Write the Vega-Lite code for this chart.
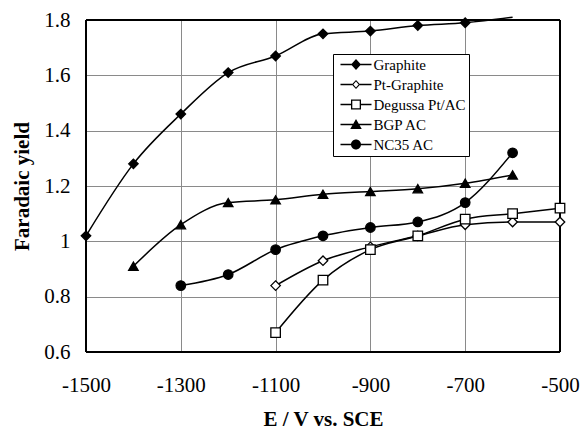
{
  "$schema": "https://vega.github.io/schema/vega-lite/v6.json",
  "width": 474,
  "height": 332,
  "autosize": "none",
  "padding": {"left": 86, "top": 20, "right": 23, "bottom": 80},
  "background": "white",
  "config": {
    "font": "Liberation Serif",
    "view": {"stroke": null},
    "axis": {
      "domain": false,
      "ticks": false,
      "gridColor": "#8a8a8a",
      "gridWidth": 1,
      "labelFlush": false,
      "labelOverlap": false,
      "labelFont": "Liberation Serif",
      "labelFontSize": 21,
      "labelColor": "black",
      "titleFont": "Liberation Serif",
      "titleFontSize": 21,
      "titleFontWeight": "bold",
      "titleColor": "black"
    },
    "legend": {"labelFont": "Liberation Serif"}
  },
  "data": {
    "values": [
      {"series": "Graphite", "E": -1500, "y": 1.02},
      {"series": "Graphite", "E": -1400, "y": 1.28},
      {"series": "Graphite", "E": -1300, "y": 1.46},
      {"series": "Graphite", "E": -1200, "y": 1.61},
      {"series": "Graphite", "E": -1100, "y": 1.67},
      {"series": "Graphite", "E": -1000, "y": 1.75},
      {"series": "Graphite", "E": -900, "y": 1.76},
      {"series": "Graphite", "E": -800, "y": 1.78},
      {"series": "Graphite", "E": -700, "y": 1.79},
      {"series": "Graphite", "E": -600, "y": 1.81},
      {"series": "Pt-Graphite", "E": -1100, "y": 0.84},
      {"series": "Pt-Graphite", "E": -1000, "y": 0.93},
      {"series": "Pt-Graphite", "E": -900, "y": 0.98},
      {"series": "Pt-Graphite", "E": -800, "y": 1.02},
      {"series": "Pt-Graphite", "E": -700, "y": 1.06},
      {"series": "Pt-Graphite", "E": -600, "y": 1.07},
      {"series": "Pt-Graphite", "E": -500, "y": 1.07},
      {"series": "Degussa Pt/AC", "E": -1100, "y": 0.67},
      {"series": "Degussa Pt/AC", "E": -1000, "y": 0.86},
      {"series": "Degussa Pt/AC", "E": -900, "y": 0.97},
      {"series": "Degussa Pt/AC", "E": -800, "y": 1.02},
      {"series": "Degussa Pt/AC", "E": -700, "y": 1.08},
      {"series": "Degussa Pt/AC", "E": -600, "y": 1.10},
      {"series": "Degussa Pt/AC", "E": -500, "y": 1.12},
      {"series": "BGP AC", "E": -1400, "y": 0.91},
      {"series": "BGP AC", "E": -1300, "y": 1.06},
      {"series": "BGP AC", "E": -1200, "y": 1.14},
      {"series": "BGP AC", "E": -1100, "y": 1.15},
      {"series": "BGP AC", "E": -1000, "y": 1.17},
      {"series": "BGP AC", "E": -900, "y": 1.18},
      {"series": "BGP AC", "E": -800, "y": 1.19},
      {"series": "BGP AC", "E": -700, "y": 1.21},
      {"series": "BGP AC", "E": -600, "y": 1.24},
      {"series": "NC35 AC", "E": -1300, "y": 0.84},
      {"series": "NC35 AC", "E": -1200, "y": 0.88},
      {"series": "NC35 AC", "E": -1100, "y": 0.97},
      {"series": "NC35 AC", "E": -1000, "y": 1.02},
      {"series": "NC35 AC", "E": -900, "y": 1.05},
      {"series": "NC35 AC", "E": -800, "y": 1.07},
      {"series": "NC35 AC", "E": -700, "y": 1.14},
      {"series": "NC35 AC", "E": -600, "y": 1.32}
    ]
  },
  "resolve": {
    "scale": {"shape": "independent"},
    "axis": {"x": "independent", "y": "independent"}
  },
  "layer": [
    {
      "mark": {"type": "line", "interpolate": "monotone", "stroke": "black", "strokeWidth": 1.5},
      "encoding": {
        "x": {
          "field": "E",
          "type": "quantitative",
          "scale": {"domain": [-1500, -500], "nice": false, "zero": false},
          "axis": {
            "values": [-1500, -1300, -1100, -900, -700, -500],
            "labelExpr": "'' + datum.value",
            "title": "E / V vs. SCE",
            "grid": true,
            "labelPadding": 22,
            "titlePadding": 13,
            "gridOpacity": {"condition": {"test": "datum.value === -1500 || datum.value === -500", "value": 0}, "value": 1}
          }
        },
        "y": {
          "field": "y",
          "type": "quantitative",
          "scale": {"domain": [0.6, 1.8], "nice": false, "zero": false},
          "axis": {
            "values": [0.6, 0.8, 1, 1.2, 1.4, 1.6, 1.8],
            "format": "~g",
            "title": "Faradaic yield",
            "grid": true,
            "labelPadding": 16,
            "titlePadding": 11,
            "gridOpacity": {"condition": {"test": "datum.value <= 0.61 || datum.value >= 1.79", "value": 0}, "value": 1}
          }
        },
        "detail": {"field": "series"}
      }
    },
    {
      "data": {"values": [{}]},
      "mark": {"type": "rule", "stroke": "black", "strokeWidth": 2},
      "encoding": {"x": {"datum": -1500, "type": "quantitative", "axis": null}}
    },
    {
      "data": {"values": [{}]},
      "mark": {"type": "rule", "stroke": "black", "strokeWidth": 2},
      "encoding": {"x": {"datum": -500, "type": "quantitative", "axis": null}}
    },
    {
      "data": {"values": [{}]},
      "mark": {"type": "rule", "stroke": "black", "strokeWidth": 2},
      "encoding": {"y": {"datum": 0.6, "type": "quantitative", "axis": null}}
    },
    {
      "data": {"values": [{}]},
      "mark": {"type": "rule", "stroke": "black", "strokeWidth": 2},
      "encoding": {"y": {"datum": 1.8, "type": "quantitative", "axis": null}}
    },
    {
      "transform": [{"filter": "!(datum.series === 'Graphite' && datum.E === -600)"}],
      "mark": {"type": "point", "filled": false, "stroke": "black", "strokeWidth": 1.3, "opacity": 1, "size": 90},
      "encoding": {
        "x": {"field": "E", "type": "quantitative", "axis": null},
        "y": {"field": "y", "type": "quantitative", "axis": null},
        "shape": {
          "field": "series",
          "type": "nominal",
          "scale": {
            "domain": ["Graphite", "Pt-Graphite", "Degussa Pt/AC", "BGP AC", "NC35 AC"],
            "range": ["diamond", "diamond", "square", "triangle-up", "circle"]
          },
          "legend": null
        },
        "fill": {
          "field": "series",
          "type": "nominal",
          "scale": {
            "domain": ["Graphite", "Pt-Graphite", "Degussa Pt/AC", "BGP AC", "NC35 AC"],
            "range": ["black", "white", "white", "black", "black"]
          },
          "legend": null
        }
      }
    },
    {
      "data": {"values": []},
      "mark": {"type": "point", "filled": true, "color": "black", "opacity": 1},
      "encoding": {
        "shape": {
          "field": "series",
          "type": "nominal",
          "scale": {
            "domain": ["Graphite", "Pt-Graphite", "Degussa Pt/AC", "BGP AC", "NC35 AC"],
            "range": [
              "M-3.1,-0.13H3.1V0.13H-3.1Z M0,-1.1L1,0L0,1.1L-1,0Z",
              "M-3.1,-0.13H-0.8V0.13H-3.1Z M0.8,-0.13H3.1V0.13H0.8Z M0,-0.9L0.85,0L0,0.9L-0.85,0Z M0,-0.58L-0.53,0L0,0.58L0.53,0Z",
              "M-3.1,-0.13H-1V0.13H-3.1Z M1,-0.13H3.1V0.13H1Z M-1,-1H1V1H-1Z M-0.74,-0.74V0.74H0.74V-0.74Z",
              "M-3.1,-0.13H3.1V0.13H-3.1Z M0,-1.1L1.15,0.9H-1.15Z",
              "M-3.1,-0.13H3.1V0.13H-3.1Z M-1,0A1,1,0,1,1,1,0A1,1,0,1,1,-1,0Z"
            ]
          },
          "legend": {
            "title": null,
            "orient": "none",
            "legendX": 247,
            "legendY": 34,
            "strokeColor": "black",
            "fillColor": "white",
            "padding": 3,
            "labelFont": "Liberation Serif",
            "labelFontSize": 15,
            "labelColor": "black",
            "rowPadding": 4,
            "symbolSize": 100,
            "symbolOffset": 12.5,
            "labelOffset": 10,
            "symbolFillColor": "black",
            "symbolStrokeWidth": 0,
            "symbolOpacity": 1
          }
        }
      }
    }
  ]
}
